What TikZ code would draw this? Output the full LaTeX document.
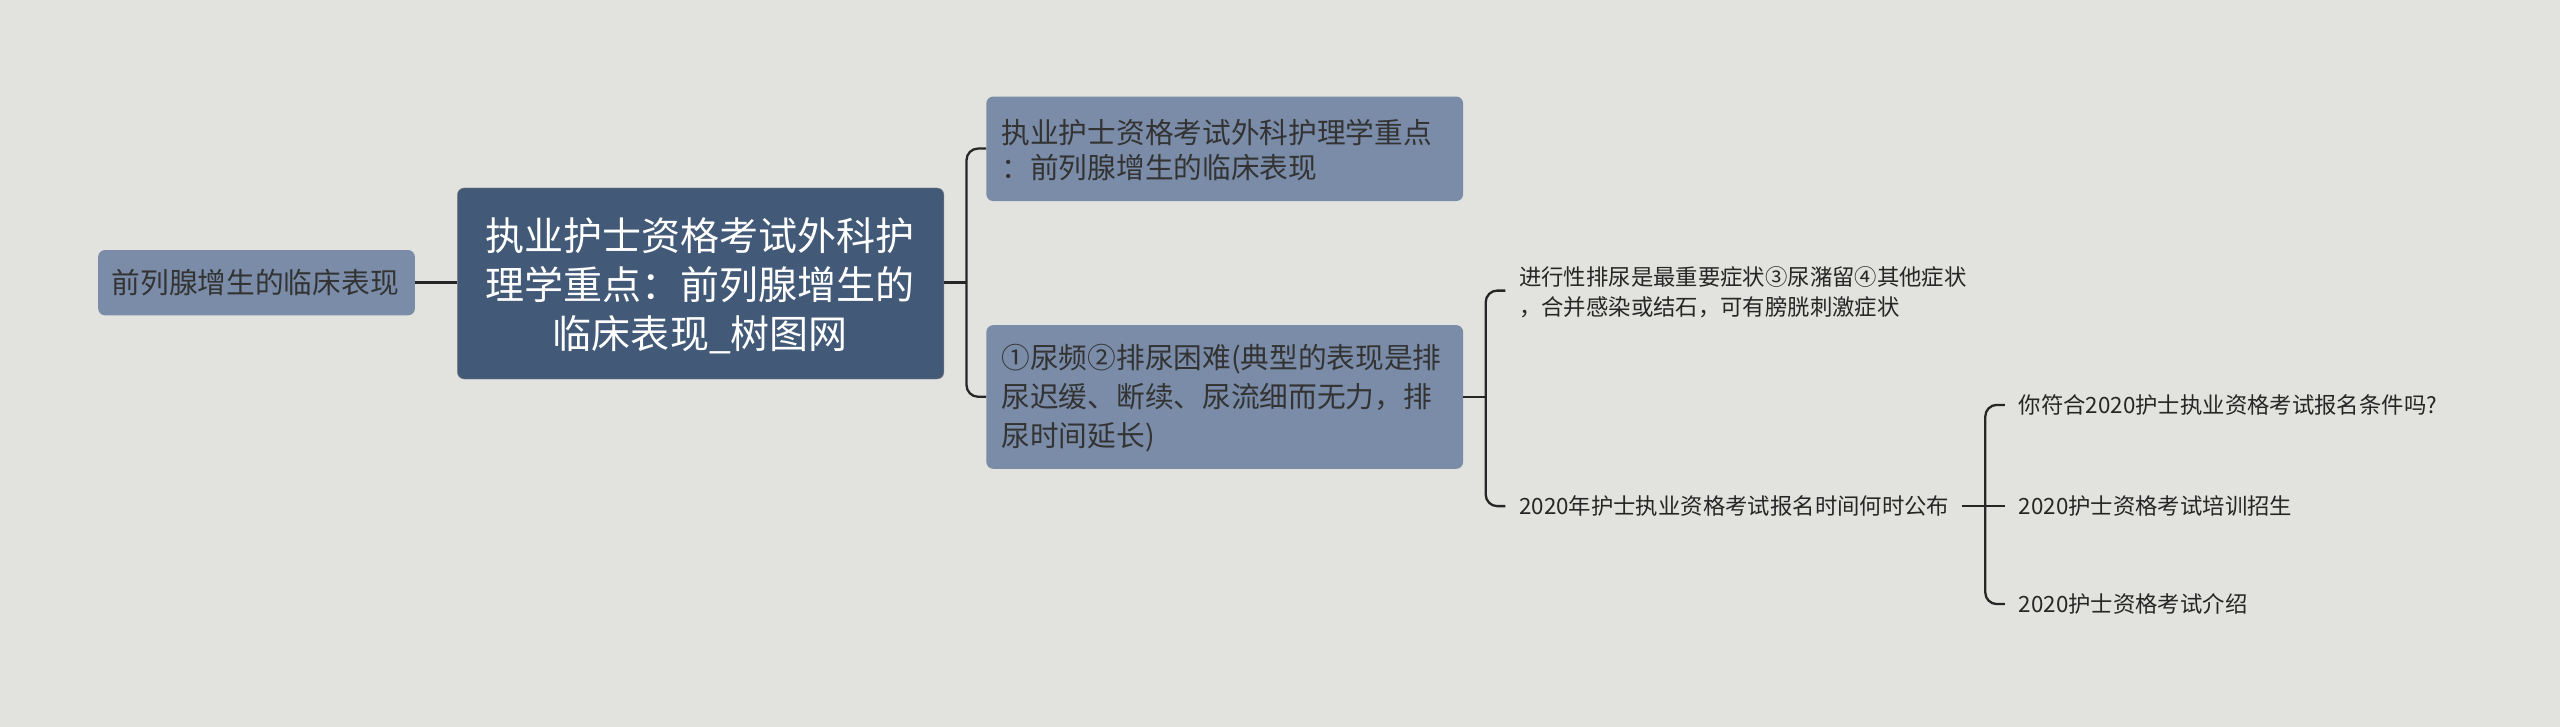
\documentclass[tikz,border=0pt]{standalone}
\usepackage{fontspec}
\setmainfont{Noto Sans CJK SC}
\definecolor{bg}{RGB}{226,227,222}
\definecolor{lite}{RGB}{122,140,168}
\definecolor{dark}{RGB}{66,90,120}
\begin{document}
\begin{tikzpicture}[x=0.05cm,y=-0.05cm,
 box/.style={draw=none,rounded corners=6pt,fill=#1,inner sep=0pt,anchor=north west},
 lbl/.style={font=\fontsize{25}{34}\selectfont,text=black!80,align=left,anchor=west},
 leaf/.style={font=\fontsize{19.5}{26}\selectfont,text=black!85,align=left,anchor=west},
 con/.style={draw=black!85,line width=2pt,rounded corners=10pt}]
\fill[bg] (0,0) rectangle (1568,445);
\useasboundingbox (0,0) rectangle (1568,445);
\node[box=lite,minimum width=194*0.05cm,minimum height=40*0.05cm] (L) at (60,153) {};
\node[lbl] at (66,173) {前列腺增生的临床表现};
\node[box=dark,draw=black!50,minimum width=298*0.05cm,minimum height=117*0.05cm] (C) at (280,115) {};
\node[font=\fontsize{34}{43}\selectfont,text=white,align=center] at (429,175) {执业护士资格考试外科护\\理学重点：前列腺增生的\\临床表现\_树图网};
\node[box=lite,minimum width=292*0.05cm,minimum height=64*0.05cm] (A) at (604,59) {};
\node[lbl,font=\fontsize{25}{31}\selectfont] at (611,92) {执业护士资格考试外科护理学重点\\：前列腺增生的临床表现};
\node[box=lite,minimum width=292*0.05cm,minimum height=88*0.05cm] (B) at (604,199) {};
\node[lbl] at (611,244) {①尿频②排尿困难(典型的表现是排\\尿迟缓、断续、尿流细而无力，排\\尿时间延长)};
\node[leaf] (l1) at (928,179) {进行性排尿是最重要症状③尿潴留④其他症状\\，合并感染或结石，可有膀胱刺激症状};
\node[leaf] (l2) at (928,310) {2020年护士执业资格考试报名时间何时公布};
\node[leaf] (s1) at (1234,248) {你符合2020护士执业资格考试报名条件吗?};
\node[leaf] (s2) at (1234,310) {2020护士资格考试培训招生};
\node[leaf] (s3) at (1234,370) {2020护士资格考试介绍};
\draw[con] (254,173) -- (280,173);
\draw[con] (578,173) -- (592,173);
\draw[con] (604,91) -- (592,91) -- (592,243) -- (604,243);
\draw[con] (896,243) -- (910,243);
\draw[con] (922,178) -- (910,178) -- (910,310) -- (922,310);
\draw[con] (1202,310) -- (1228,310);
\draw[con] (1228,248) -- (1216,248) -- (1216,370) -- (1228,370);
\end{tikzpicture}
\end{document}
